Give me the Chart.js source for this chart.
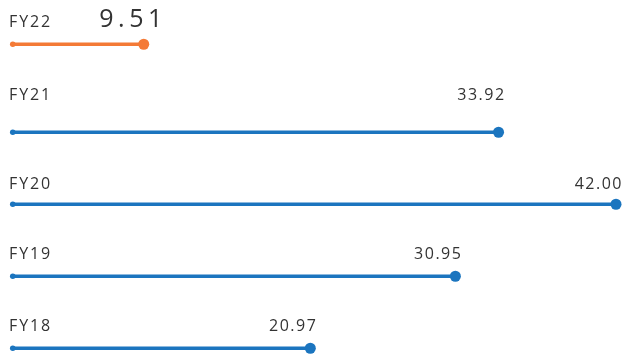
<!DOCTYPE html>
<html>
<head>
<meta charset="utf-8">
<script src="https://cdn.jsdelivr.net/npm/chart.js@4"></script>
<style>
  html, body { margin: 0; padding: 0; background: #ffffff; }
  #wrap { position: relative; width: 623px; height: 356px; overflow: hidden; background: #ffffff; }
  #wrap canvas { position: absolute; left: 0; }
</style>
</head>
<body>
<div id="wrap"></div>
<script>
// ---- data ----
const categories = ['FY22', 'FY21', 'FY20', 'FY19', 'FY18'];
const values = [9.51, 33.92, 42.00, 30.95, 20.97];
const valueLabels = ['9.51', '33.92', '42.00', '30.95', '20.97'];
const highlighted = [true, false, false, false, false];
const axisMin = 0;
const axisMax = 42;
const stemStart = 0.5;

// ---- styles / layout ----
const BLUE = '#1b75bf';
const ORANGE = '#f47a36';
const TEXT = '#333333';
const FONT = '"Open Sans", Lato, sans-serif';
const lineY = [44.3, 132.3, 204, 276.3, 348.3];
const baselineY = [26.8, 100, 188.5, 259.5, 331.5];
const CANVAS_H = 60, BAR_OFFSET = 52, SHIFT = 2;

const wrap = document.getElementById('wrap');

const textPlugin = {
  id: 'rowText',
  afterDatasetsDraw(chart, args, opts) {
    const { ctx, scales } = chart;
    const i = opts.index;
    const baseY = baselineY[i] - opts.top;
    ctx.save();
    ctx.fillStyle = TEXT;
    ctx.textBaseline = 'alphabetic';
    ctx.letterSpacing = '1.9px';
    ctx.font = '400 16px ' + FONT;
    ctx.textAlign = 'left';
    ctx.fillText(categories[i], 9, baseY);
    const big = highlighted[i];
    ctx.font = big ? '400 25px ' + FONT : '400 16px ' + FONT;
    ctx.letterSpacing = big ? '4.5px' : '1.5px';
    ctx.textAlign = 'right';
    const xr = scales.x.getPixelForValue(values[i]) + (big ? 23 : 7);
    ctx.fillText(valueLabels[i], xr, baseY);
    ctx.restore();
  }
};

categories.forEach((cat, i) => {
  const cv = document.createElement('canvas');
  cv.width = 623; cv.height = CANVAS_H;
  cv.style.width = '623px'; cv.style.height = CANVAS_H + 'px';
  const top = lineY[i] - BAR_OFFSET + SHIFT;
  cv.style.top = top + 'px';
  wrap.appendChild(cv);
  const color = highlighted[i] ? ORANGE : BLUE;
  new Chart(cv.getContext('2d'), {
    type: 'bar',
    data: {
      labels: [cat],
      datasets: [
        { type: 'line', indexAxis: 'y', data: [{ x: values[i], y: cat }], showLine: false, clip: false,
          pointRadius: 5.5, pointBackgroundColor: color, pointBorderWidth: 0, borderColor: color, order: 0 },
        { type: 'line', indexAxis: 'y', data: [{ x: stemStart, y: cat }], showLine: false, clip: false,
          pointRadius: 2.8, pointBackgroundColor: color, pointBorderWidth: 0, borderColor: color, order: 1 },
        { type: 'bar', data: [values[i]], base: stemStart, backgroundColor: color, clip: false,
          barThickness: 3, borderWidth: 0, order: 2 }
      ]
    },
    options: {
      indexAxis: 'y',
      responsive: false,
      animation: false,
      devicePixelRatio: 1,
      layout: { padding: { left: 4, right: 7, top: 46, bottom: 2 } },
      scales: {
        x: { type: 'linear', min: axisMin, max: axisMax, display: false },
        y: { type: 'category', display: false }
      },
      plugins: {
        legend: { display: false },
        tooltip: { enabled: false },
        rowText: { index: i, top: top }
      }
    },
    plugins: [textPlugin]
  });
});
</script>
</body>
</html>
